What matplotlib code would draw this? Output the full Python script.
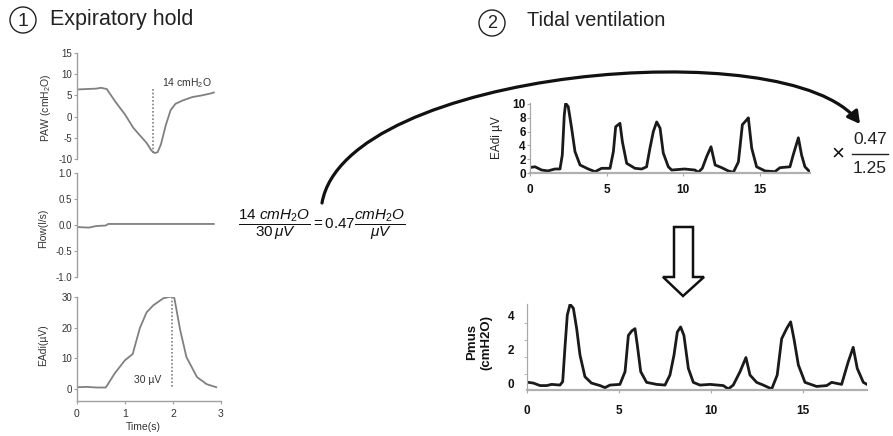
import matplotlib.pyplot as plt
from matplotlib.patches import Circle, Polygon, FancyArrowPatch
from matplotlib.path import Path

plt.rcParams['font.family'] = ['Liberation Sans', 'DejaVu Sans']
plt.rcParams['axes.unicode_minus'] = False
plt.rcParams['mathtext.fontset'] = 'custom'
plt.rcParams['mathtext.rm'] = 'Liberation Sans'
plt.rcParams['mathtext.it'] = 'Liberation Sans:italic'
plt.rcParams['mathtext.bf'] = 'Liberation Sans:bold'

# --- expiratory hold ---
paw_t = [0, 0.2, 0.4, 0.5, 0.62, 0.8, 1.0, 1.17, 1.3, 1.45, 1.55, 1.62, 1.68,
         1.75, 1.85, 1.95, 2.05, 2.2, 2.4, 2.6, 2.8, 2.85]
paw_v = [6.4, 6.5, 6.6, 6.8, 6.5, 3.5, 0.5, -2.6, -4.3, -6.2, -8.0, -8.6, -8.4,
         -6.5, -2.0, 1.5, 3.0, 3.8, 4.6, 5.0, 5.5, 5.7]

flow_t = [0, 0.25, 0.4, 0.6, 0.65, 1.5, 2.85]
flow_v = [-0.04, -0.05, -0.02, -0.01, 0.02, 0.02, 0.02]

eadi_hold_t = [0, 0.2, 0.4, 0.6, 0.79, 1.0, 1.16, 1.31, 1.45, 1.59, 1.8, 2.0,
               2.03, 2.15, 2.28, 2.5, 2.7, 2.9]
eadi_hold_v = [0.6, 0.7, 0.5, 0.5, 5.2, 9.4, 11.4, 19.9, 25, 27.3, 29.6, 30.3,
               29.5, 19.2, 10.4, 3.9, 1.6, 0.6]

paw_drop = [6.5, -8.5]      # dotted marker, 14 cmH2O
paw_drop_t = 1.58
eadi_peak = [30, 0.7]       # dotted marker, 30 uV
eadi_peak_t = 1.97

# --- tidal ventilation ---
tidal_t = [0, 0.33, 0.76, 1.17, 1.63, 1.96, 2.11, 2.24, 2.33, 2.5, 2.72, 2.94,
           3.27, 3.81, 4.25, 4.68, 5.23, 5.45, 5.6, 5.88, 6.04, 6.32, 6.86, 7.3,
           7.62, 7.84, 8.06, 8.28, 8.5, 8.71, 9.04, 9.26, 10.1, 10.78, 11.0,
           11.26, 11.55, 11.83, 12.1, 12.53, 12.96, 13.29, 13.62, 13.88, 14.16,
           14.27, 14.49, 14.81, 15.36, 16.0, 16.34, 16.99, 17.2, 17.54, 17.75,
           17.97, 18.23]
tidal_eadi = [0.8, 0.9, 0.43, 0.3, 0.58, 0.58, 2.6, 8.4, 10.1, 9.6, 6.5, 3.1,
              1.16, 0.58, 0.19, 0.68, 0.68, 3.1, 6.7, 7.2, 4.5, 1.4, 0.68, 0.58,
              0.9, 3.6, 6.0, 7.4, 6.5, 2.9, 0.9, 0.43, 0.58, 0.43, 0.1,
              0.68, 2.4, 3.8, 1.16, 0.77, 0.3, 0.1, 1.6, 7.0, 7.7,
              8.0, 3.6, 0.9, 0.3, 0.19, 0.77, 0.9, 2.6, 5.1, 2.6,
              0.9, 0.3]

pmus_t = [0, 0.34, 0.71, 1.07, 1.34, 1.79, 1.94, 2.07, 2.19, 2.34, 2.52, 2.7,
          2.88, 3.15, 3.5, 3.97, 4.24, 4.51, 5.05, 5.33, 5.51, 5.69, 5.87, 6.0,
          6.18, 6.5, 7.05, 7.5, 7.77, 7.99, 8.17, 8.35, 8.53, 8.77, 9.04, 9.4,
          9.95, 10.67, 10.94, 11.21, 11.58, 11.9, 12.12, 12.48, 12.84, 13.3,
          13.6, 13.84, 14.11, 14.33, 14.51, 14.75, 15.11, 15.74, 16.29, 16.56,
          17.1, 17.46, 17.73, 17.95, 18.28, 18.48]
pmus_v = [0.05, 0.0, -0.15, -0.15, -0.08, -0.12, 0.08, 2.2, 4.0, 4.63, 4.4, 3.2,
          1.65, 0.37, 0.0, -0.15, -0.27, -0.12, -0.08, 0.67, 2.8, 3.06, 3.2, 2.2,
          0.67, 0.04, -0.08, -0.12, 0.47, 1.65, 3.0, 3.3, 2.8, 0.86, 0.04, -0.12,
          -0.08, -0.15, -0.35, -0.12, 0.67, 1.5, 0.47, 0.04, -0.12, -0.35,
          0.47, 2.6, 3.2, 3.6, 2.6, 1.06, 0.04, -0.2, -0.15, 0.04,
          -0.08, 1.25, 2.1, 0.86, 0.04, -0.08]

W, H = 893, 436
fig = plt.figure(figsize=(W / 100, H / 100), dpi=100)


def box(x0, y0, x1, y1):
    # axes placed by pixel edges of the reference
    ax = fig.add_axes([x0 / W, 1 - y1 / H, (x1 - x0) / W, (y1 - y0) / H])
    ax.patch.set_alpha(0)
    return ax


def hold_style(ax, bottom=False):
    ax.spines['top'].set_visible(False)
    ax.spines['right'].set_visible(False)
    if not bottom:
        ax.spines['bottom'].set_visible(False)
        ax.set_xticks([])
    for s in ax.spines.values():
        s.set_color('#a0a0a0')
        s.set_linewidth(1.0)
    ax.tick_params(colors='#a0a0a0', labelcolor='#333333', labelsize=7,
                   length=2.5, width=0.8, pad=1)


gray = '#808080'

ax1 = box(77, 53, 221, 159)
ax1.plot(paw_t, paw_v, color=gray, lw=1.3)
ax1.plot([paw_drop_t] * 2, paw_drop, color=gray, lw=1.2, ls=(0, (1, 1.2)))
ax1.set_xlim(0, 3)
ax1.set_ylim(-10, 15)
ax1.set_yticks([-10, -5, 0, 5, 10, 15])
hold_style(ax1)

ax2 = box(77, 173, 221, 277)
ax2.plot(flow_t, flow_v, color=gray, lw=1.3)
ax2.set_xlim(0, 3)
ax2.set_ylim(-1, 1)
ax2.set_yticks([-1, -0.5, 0, 0.5, 1])
ax2.set_yticklabels(['%.1f' % v for v in [-1, -0.5, 0, 0.5, 1]])
hold_style(ax2)

ax3 = box(77, 297, 221, 401)
ax3.plot(eadi_hold_t, eadi_hold_v, color=gray, lw=1.3)
ax3.plot([eadi_peak_t] * 2, eadi_peak, color=gray, lw=1.2, ls=(0, (1, 1.2)))
ax3.set_xlim(0, 3)
ax3.set_ylim(-3.9, 30)
ax3.set_yticks([0, 10, 20, 30])
ax3.set_xticks([0, 1, 2, 3])
hold_style(ax3, bottom=True)
ax3.tick_params(axis='x', pad=3.5, labelsize=7.5)


def tidal_style(ax):
    ax.spines['top'].set_visible(False)
    ax.spines['right'].set_visible(False)
    ax.spines['left'].set_color('#a8a8a8')
    ax.spines['left'].set_linewidth(0.9)
    ax.spines['bottom'].set_color('#b0b0b0')
    ax.spines['bottom'].set_linewidth(1.6)
    ax.tick_params(colors='#a8a8a8', labelcolor='#111111', labelsize=8.5,
                   length=2, width=0.8)
    for lab in ax.get_xticklabels() + ax.get_yticklabels():
        lab.set_fontweight('bold')


ax4 = box(530, 102.6, 810, 173)
ax4.plot(tidal_t, tidal_eadi, color='#1a1a1a', lw=2.0, solid_joinstyle='round')
ax4.set_xlim(0, 18.3)
ax4.set_ylim(0, 10.2)
ax4.set_yticks([0, 2, 4, 6, 8, 10])
ax4.set_xticks([0, 5, 10, 15])
tidal_style(ax4)
ax4.tick_params(axis='y', pad=1)
ax4.tick_params(axis='x', pad=6)

ax5 = box(527, 304, 867, 390)
ax5.plot(pmus_t, pmus_v, color='#1a1a1a', lw=2.0, solid_joinstyle='round')
ax5.set_xlim(0, 18.48)
ax5.set_ylim(-0.41, 4.65)
ax5.set_yticks([0, 2, 4])
ax5.set_yticks([0.55, 1.55, 2.55, 3.55], minor=True)
ax5.set_xticks([0, 5, 10, 15])
tidal_style(ax5)
ax5.tick_params(axis='y', which='major', length=0, pad=9)
ax5.tick_params(axis='y', which='minor', length=2, color='#a8a8a8')
ax5.tick_params(axis='x', pad=9)

# overlay in pixel coordinates for headings, labels and arrows
ov = fig.add_axes([0, 0, 1, 1])
ov.set_xlim(0, W)
ov.set_ylim(H, 0)
ov.axis('off')
ov.set_zorder(10)

ov.add_patch(Circle((23, 20), 13, fill=False, lw=1.0, ec='#222222'))
ov.text(23, 21, '1', fontsize=14, ha='center', va='center', color='#222222')
ov.text(50, 20, 'Expiratory hold', fontsize=15.5, ha='left', va='center',
        color='#222222')
ov.add_patch(Circle((492, 23), 13, fill=False, lw=1.0, ec='#222222'))
ov.text(492, 24, '2', fontsize=13, ha='center', va='center', color='#222222')
ov.text(527, 20, 'Tidal ventilation', fontsize=14.3, ha='left', va='center',
        color='#222222')

lab_kw = dict(fontsize=7.5, rotation=90, ha='center', va='center', color='#333333')
ov.text(46, 108, 'PAW (cmH$_2$O)', **lab_kw)
ov.text(43, 228, 'Flow(l/s)', **lab_kw)
ov.text(43, 345, 'EAdi(\u00b5V)', **lab_kw)
ov.text(143, 427, 'Time(s)', fontsize=7.5, ha='center', va='center', color='#333333')
ov.text(162, 83, '14 cmH$_2$O', fontsize=7.5, ha='left', va='center', color='#333333')
ov.text(148, 380, '30 \u00b5V', fontsize=7.5, ha='center', va='center', color='#333333')

ov.text(497, 138, 'EAdi \u00b5V', fontsize=8.5, rotation=90, ha='center',
        va='center', color='#222222')
ov.text(479, 342, 'Pmus\n(cmH2O)', fontsize=9.5, fontweight='bold', rotation=90,
        ha='center', va='center', multialignment='center', color='#111111')

ov.text(322, 225, r'$\dfrac{14\ cmH_2O}{30\,\mu V} = 0.47\dfrac{cmH_2O}{\mu V}$',
        fontsize=11, ha='center', va='center', color='#111111')

# multiplier  x 0.47 / 1.25
ov.text(838, 154, '\u00d7', fontsize=16, ha='center', va='center', color='#111111')
ov.text(870, 139, '0.47', fontsize=12.5, ha='center', va='center', color='#222222')
ov.text(870, 168, '1.25', fontsize=12.5, ha='center', va='center', color='#222222')
ov.plot([852, 888], [154, 154], color='#222222', lw=1.0)

# curved arrow from the ratio to the multiplier
curve = Path([(322, 203), (345, 70), (790, 30), (860, 124)],
             [Path.MOVETO, Path.CURVE4, Path.CURVE4, Path.CURVE4])
ov.add_patch(FancyArrowPatch(path=curve, arrowstyle='-|>,head_length=0.45,head_width=0.25',
                             mutation_scale=16, lw=2.3, color='#111111'))

# hollow down arrow
ov.add_patch(Polygon([(674, 227), (693, 227), (693, 277), (704, 277), (683, 296),
                      (663, 277), (674, 277)], closed=True, fc='white',
                     ec='#111111', lw=1.8, joinstyle='miter'))

fig.savefig('out.png', dpi=100)
